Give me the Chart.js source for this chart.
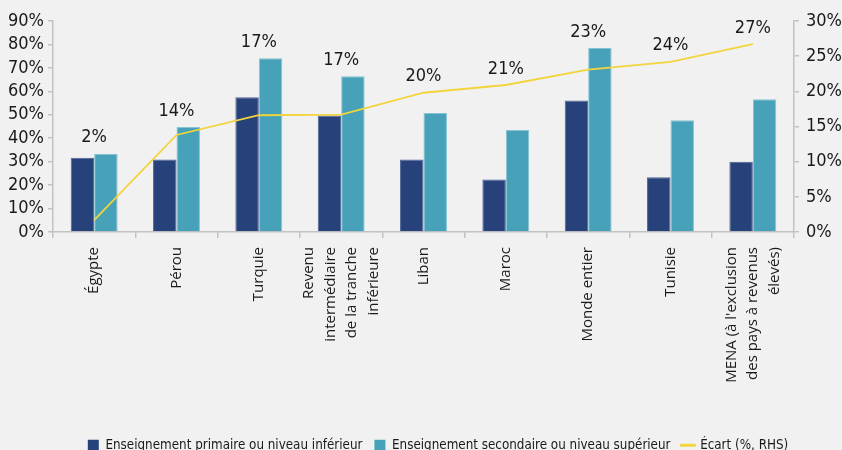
<!DOCTYPE html>
<html>
<head>
<meta charset="utf-8">
<script src="https://cdn.jsdelivr.net/npm/chart.js@4/dist/chart.umd.min.js"></script>
<style>
  html, body { margin: 0; padding: 0; background: #f1f1f1; overflow: hidden; }
  #wrap { width: 842px; height: 462px; position: relative; }
</style>
</head>
<body>
<div id="wrap"><canvas id="chart"></canvas></div>
<script>
// Categories (multi-line labels are split into lines)
const categories = [
  ['Égypte'],
  ['Pérou'],
  ['Turquie'],
  ['Revenu', 'intermédiaire', 'de la tranche', 'inférieure'],
  ['Liban'],
  ['Maroc'],
  ['Monde entier'],
  ['Tunisie'],
  ["MENA (à l'exclusion", 'des pays à revenus', 'élevés)']
];

// Shares by education level (%, left axis)
const primaryShare   = [31.7, 30.9, 57.5, 49.7, 30.9, 22.4, 56.1, 23.3, 30.0];
const secondaryShare = [33.4, 44.8, 74.1, 66.4, 50.8, 43.5, 78.5, 47.7, 56.6];

// Gap between the two groups (%, right axis)
const gapRHS = [1.7, 13.8, 16.6, 16.7, 19.8, 20.9, 23.1, 24.2, 26.7];

// Axis ticks
const leftTicks  = [0, 10, 20, 30, 40, 50, 60, 70, 80, 90];
const rightTicks = [0, 5, 10, 15, 20, 25, 30];

const NARROW = '"Liberation Sans Narrow", "DejaVu Sans Condensed", sans-serif';
const AXIS_GREY = '#c2c2c2';
const TEXT = '#1a1a1a';
const PLOT_BOTTOM = 232;
const LEGEND_SHIFT = 17;

// Percent labels for the gap series, placed above the tallest mark of each group
const gapLabels = {
  id: 'gapLabels',
  afterDatasetsDraw(chart) {
    const ctx = chart.ctx;
    const m0 = chart.getDatasetMeta(0);
    const m1 = chart.getDatasetMeta(1);
    const m2 = chart.getDatasetMeta(2);
    ctx.save();
    ctx.font = '18px ' + NARROW;
    ctx.fillStyle = TEXT;
    ctx.textAlign = 'center';
    ctx.textBaseline = 'middle';
    gapRHS.forEach((v, i) => {
      const pt = m2.data[i];
      const top = Math.min(m0.data[i].y, m1.data[i].y, pt.y);
      ctx.fillText(Math.round(v) + '%', pt.x, top - 16);
    });
    ctx.restore();
  }
};

// Vertical category labels, each block of lines centred on its category
const categoryLabels = {
  id: 'categoryLabels',
  afterDraw(chart) {
    const xs = chart.scales.x;
    const ctx = chart.ctx;
    const lh = 21.5;
    ctx.save();
    ctx.font = '15px "Open Sans", "Noto Sans", sans-serif';
    ctx.fillStyle = TEXT;
    ctx.textAlign = 'right';
    ctx.textBaseline = 'middle';
    categories.forEach((lines, i) => {
      const x0 = xs.getPixelForValue(i);
      lines.forEach((t, j) => {
        const x = x0 + (j - (lines.length - 1) / 2) * lh;
        ctx.save();
        ctx.translate(x, xs.top + 15);
        ctx.rotate(-Math.PI / 2);
        ctx.fillText(t, 0, 0);
        ctx.restore();
      });
    });
    ctx.restore();
  }
};

// Nudge the legend row slightly to the right of centre
const legendNudge = {
  id: 'legendNudge',
  afterLayout(chart) {
    if (chart.legend) {
      chart.legend.left += LEGEND_SHIFT;
      chart.legend.right += LEGEND_SHIFT;
    }
  }
};

const pct = v => v + '%';

new Chart(document.getElementById('chart'), {
  data: {
    labels: categories,
    datasets: [
      {
        type: 'bar',
        label: 'Enseignement primaire ou niveau inférieur',
        data: primaryShare,
        backgroundColor: '#27417b',
        borderColor: '#4d6396',
        borderWidth: 1,
        yAxisID: 'y',
        order: 1
      },
      {
        type: 'bar',
        label: 'Enseignement secondaire ou niveau supérieur',
        data: secondaryShare,
        backgroundColor: '#47a2b9',
        borderColor: '#86c4d3',
        borderWidth: 1,
        yAxisID: 'y',
        order: 1
      },
      {
        type: 'line',
        label: 'Écart (%, RHS)',
        data: gapRHS,
        borderColor: '#f2d43c',
        backgroundColor: '#f2d43c',
        borderWidth: 1.8,
        pointRadius: 0,
        tension: 0,
        yAxisID: 'y1',
        order: 0
      }
    ]
  },
  options: {
    responsive: true,
    maintainAspectRatio: false,
    animation: false,
    layout: { padding: { top: 21, left: 0, right: 0, bottom: 0 } },
    datasets: {
      bar: { categoryPercentage: 0.57, barPercentage: 1.0 }
    },
    scales: {
      x: {
        afterFit: s => {
          const legendH = s.chart.legend ? s.chart.legend.height : 30;
          s.height = s.chart.height - legendH - PLOT_BOTTOM;
        },
        grid: { display: true, drawOnChartArea: false, drawTicks: true, tickLength: 6, color: AXIS_GREY, lineWidth: 1.5, offset: true },
        border: { color: AXIS_GREY, width: 1.5 },
        ticks: { display: false, autoSkip: false }
      },
      y: {
        position: 'left',
        min: 0, max: 90,
        afterBuildTicks: s => { s.ticks = leftTicks.map(v => ({ value: v })); },
        afterFit: s => { s.width = 53; },
        grid: { drawOnChartArea: false, drawTicks: true, tickLength: 5, color: AXIS_GREY, lineWidth: 1.5 },
        border: { color: AXIS_GREY, width: 1.5 },
        ticks: { autoSkip: false, callback: pct, font: { family: NARROW, size: 18 }, color: TEXT, padding: 4 }
      },
      y1: {
        position: 'right',
        min: 0, max: 30,
        afterBuildTicks: s => { s.ticks = rightTicks.map(v => ({ value: v })); },
        afterFit: s => { s.width = 48; },
        grid: { drawOnChartArea: false, drawTicks: true, tickLength: 5, color: AXIS_GREY, lineWidth: 1.5 },
        border: { color: AXIS_GREY, width: 1.5 },
        ticks: { autoSkip: false, callback: pct, font: { family: NARROW, size: 18 }, color: TEXT, padding: 7 }
      }
    },
    plugins: {
      tooltip: { enabled: false },
      legend: {
        position: 'bottom',
        labels: {
          font: { family: NARROW, size: 13.3 },
          color: TEXT,
          usePointStyle: true,
          boxWidth: 11,
          boxHeight: 11,
          padding: 12,
          sort: (a, b) => a.datasetIndex - b.datasetIndex,
          generateLabels(chart) {
            const items = Chart.defaults.plugins.legend.labels.generateLabels(chart);
            items.forEach(it => {
              if (it.datasetIndex === 2) {
                it.pointStyle = 'line';
                it.lineWidth = 3;
              } else {
                it.pointStyle = 'rect';
                it.lineWidth = 0;
                it.strokeStyle = it.fillStyle;
              }
            });
            return items;
          }
        }
      }
    }
  },
  plugins: [gapLabels, categoryLabels, legendNudge]
});
</script>
</body>
</html>
